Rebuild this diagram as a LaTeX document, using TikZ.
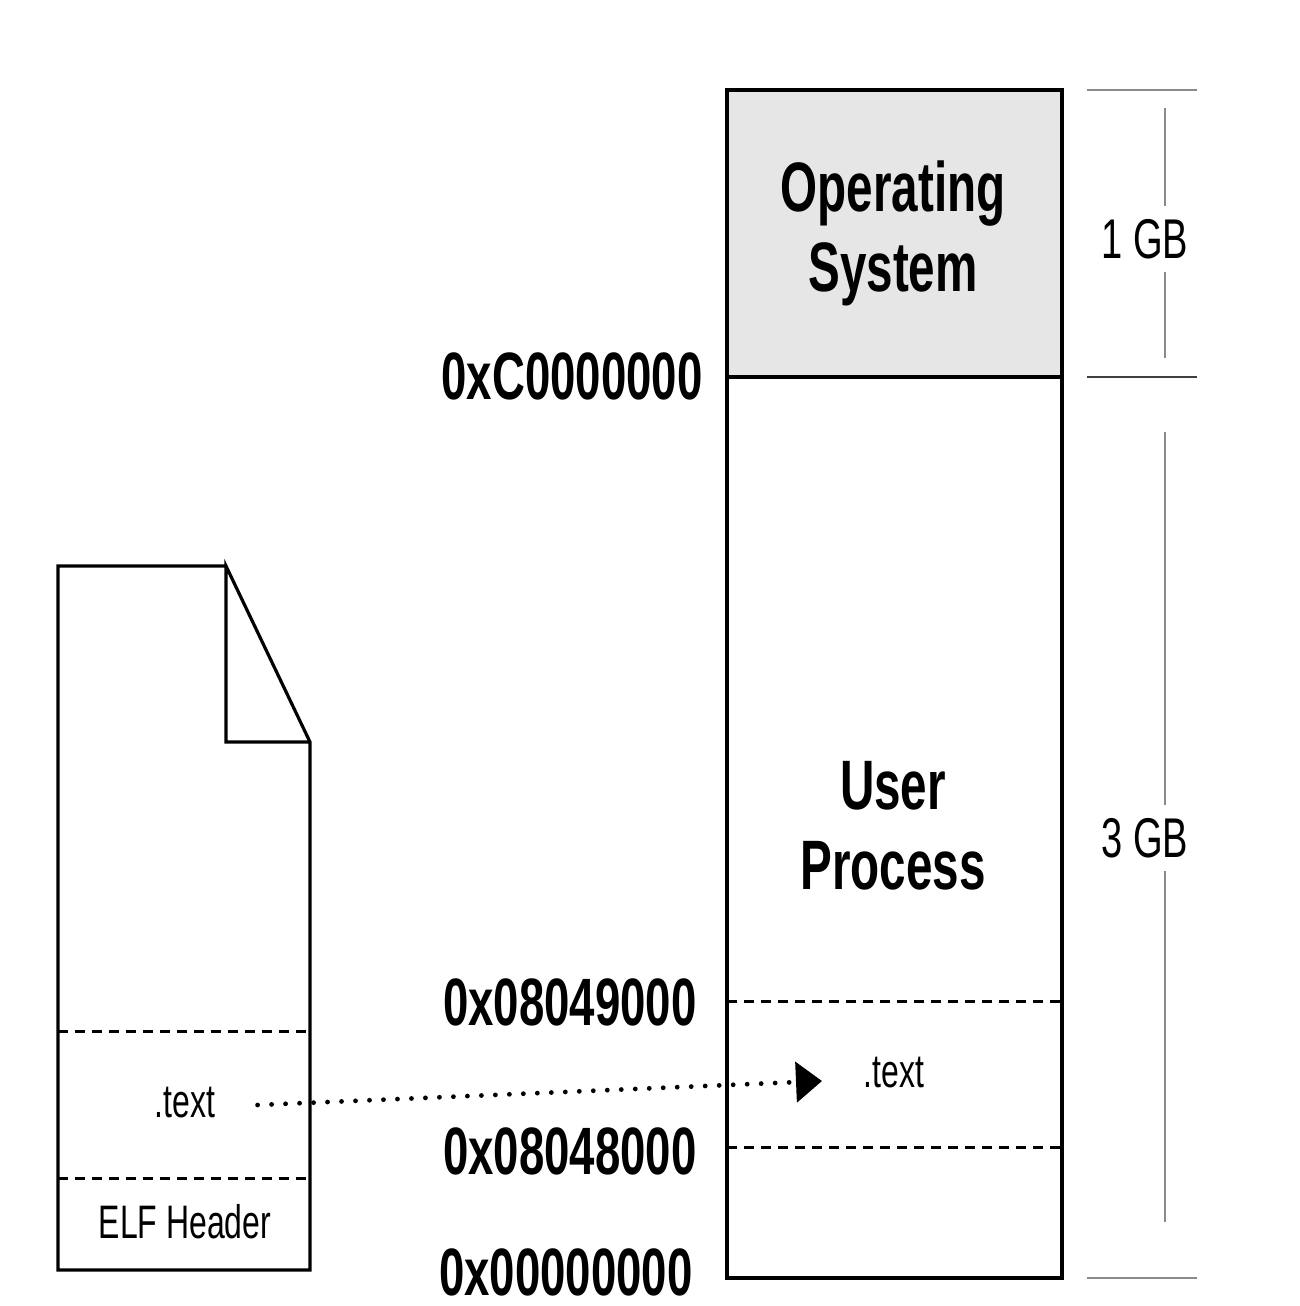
\documentclass[tikz,border=0pt]{standalone}
\usepackage{fontspec}
\setmainfont{Liberation Sans}
\newfontfamily\nar{Liberation Sans}[FakeStretch=0.68]
\usetikzlibrary{arrows.meta}
\definecolor{osgray}{HTML}{E6E6E6}
\definecolor{scalegray}{HTML}{8A8A8A}
\begin{document}
\begin{tikzpicture}[x=0.5pt,y=-0.5pt,
  boxline/.style={line width=1.6pt,draw=black},
  sepline/.style={line width=1.5pt,dash pattern=on 5pt off 3.5pt},
  bigt/.style={font=\nar\bfseries\fontsize{35}{42}\selectfont,align=center,inner sep=0pt},
  addr/.style={font=\nar\bfseries\fontsize{33.5}{40}\selectfont,anchor=east,inner sep=0pt},
  small/.style={font=\nar\fontsize{23.5}{28}\selectfont,inner sep=0pt},
  gb/.style={font=\nar\fontsize{28}{33}\selectfont,inner sep=0pt,minimum height=33pt},
  scaleline/.style={line width=1pt,draw=scalegray}]
\useasboundingbox (0,0) rectangle (1300,1306);
% process memory box
\fill[osgray] (727,90) rectangle (1062,377);
\draw[boxline] (727,90) rectangle (1062,1278);
\draw[boxline] (727,377) -- (1062,377);
\draw[sepline] (727,1001) -- (1062,1001);
\draw[sepline] (727,1147) -- (1062,1147);
\node[bigt] (os) at (893,233) {Operating\\[-2pt]System};
\node[bigt] (up) at (893,826) {User\\[-2pt]Process};
\node[small] (ptext) at (894,1073) {.text};
% addresses
\node[addr] (ac) at (703,376) {0xC0000000};
\node[addr] (a49) at (697,1002) {0x08049000};
\node[addr] (a48) at (697,1151) {0x08048000};
\node[addr] (a00) at (693,1272) {0x00000000};
% scale
\draw[scaleline] (1087,90) -- (1197,90);
\draw[scaleline,draw=black!75] (1087,377) -- (1197,377);
\draw[scaleline] (1087,1278) -- (1197,1278);
\node[gb] (gb1) at (1145,239) {1 GB};
\node[gb] (gb3) at (1145,838) {3 GB};
\coordinate (s1t) at (1165,108);
\coordinate (s1b) at (1165,358);
\coordinate (s3t) at (1165,432);
\coordinate (s3b) at (1165,1222);
\draw[scaleline] (s1t) -- (s1t |- gb1.north);
\draw[scaleline] (s1b) -- (s1b |- gb1.south);
\draw[scaleline] (s3t) -- (s3t |- gb3.north);
\draw[scaleline] (s3b) -- (s3b |- gb3.south);
% ELF file
\draw[boxline,line join=miter] (226,566) -- (58,566) -- (58,1270) -- (310,1270) -- (310,742) -- (226,566) -- (226,742) -- (310,742);
\draw[sepline] (58,1031) -- (310,1031);
\draw[sepline] (58,1178) -- (310,1178);
\node[small] (ftext) at (185,1103) {.text};
\node[small] (elf) at (185,1222) {ELF Header};
% dotted mapping arrow
\coordinate (tip) at (822,1081);
\draw[line width=2.4pt,line cap=round,dash pattern=on 0pt off 7pt,
  -{Triangle[length=13pt,width=20pt,line cap=butt]}]
  ([xshift=21pt,yshift=-1pt]ftext.east) -- (tip);
\end{tikzpicture}
\end{document}
